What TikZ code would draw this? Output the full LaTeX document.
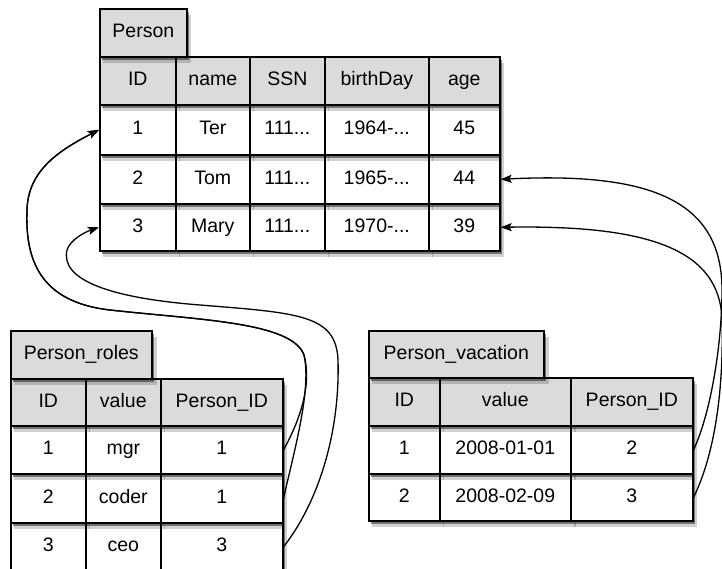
\documentclass[tikz,border=0pt]{standalone}
\usepackage{fontspec}
\setmainfont{Liberation Sans}
\usetikzlibrary{shadows,arrows.meta}
\begin{document}
\begin{tikzpicture}[x=1pt,y=-1pt,
  cell/.style={rectangle,draw=black,line width=1.6pt,fill=white,anchor=north west,
    inner sep=0pt,text height=14pt,text depth=4pt,
    font=\fontsize{19.5}{23}\selectfont,
    general shadow={shadow xshift=4pt,shadow yshift=-6pt,opacity=0.18,fill=black,shadow scale=1.01},
    drop shadow={shadow xshift=2.5pt,shadow yshift=-3.5pt,opacity=0.45,fill=black}},
  hcell/.style={cell,fill=black!14},
  conn/.style={line width=1.3pt,-{Stealth[length=11pt,width=8pt,inset=2pt]}}]
\useasboundingbox (0,0) rectangle (722,569);

% ---------- Person ----------
\node[cell,minimum width=76pt,minimum height=47pt] (p-3-1) at (99,203) {3};
\node[cell,minimum width=74pt,minimum height=47pt] (p-3-2) at (175,203) {Mary};
\node[cell,minimum width=75pt,minimum height=47pt] (p-3-3) at (249,203) {111...};
\node[cell,minimum width=104pt,minimum height=47pt] (p-3-4) at (324,203) {1970-...};
\node[cell,minimum width=71pt,minimum height=47pt] (p-3-5) at (428,203) {39};
\node[cell,minimum width=76pt,minimum height=49pt] (p-2-1) at (99,154) {2};
\node[cell,minimum width=74pt,minimum height=49pt] (p-2-2) at (175,154) {Tom};
\node[cell,minimum width=75pt,minimum height=49pt] (p-2-3) at (249,154) {111...};
\node[cell,minimum width=104pt,minimum height=49pt] (p-2-4) at (324,154) {1965-...};
\node[cell,minimum width=71pt,minimum height=49pt] (p-2-5) at (428,154) {44};
\node[cell,minimum width=76pt,minimum height=50pt] (p-1-1) at (99,104) {1};
\node[cell,minimum width=74pt,minimum height=50pt] (p-1-2) at (175,104) {Ter};
\node[cell,minimum width=75pt,minimum height=50pt] (p-1-3) at (249,104) {111...};
\node[cell,minimum width=104pt,minimum height=50pt] (p-1-4) at (324,104) {1964-...};
\node[cell,minimum width=71pt,minimum height=50pt] (p-1-5) at (428,104) {45};
\node[hcell,minimum width=76pt,minimum height=48pt] (p-h-1) at (99,56) {ID};
\node[hcell,minimum width=74pt,minimum height=48pt] (p-h-2) at (175,56) {name};
\node[hcell,minimum width=75pt,minimum height=48pt] (p-h-3) at (249,56) {SSN};
\node[hcell,minimum width=104pt,minimum height=48pt] (p-h-4) at (324,56) {birthDay};
\node[hcell,minimum width=71pt,minimum height=48pt] (p-h-5) at (428,56) {age};
\node[hcell,minimum width=87pt,minimum height=48pt] (p-tab) at (99,8) {Person};

% ---------- Person_roles ----------
\node[cell,minimum width=75pt,minimum height=48pt] (r-3-1) at (10,522) {3};
\node[cell,minimum width=75pt,minimum height=48pt] (r-3-2) at (85,522) {ceo};
\node[cell,minimum width=122pt,minimum height=48pt] (r-3-3) at (160,522) {3};
\node[cell,minimum width=75pt,minimum height=49pt] (r-2-1) at (10,473) {2};
\node[cell,minimum width=75pt,minimum height=49pt] (r-2-2) at (85,473) {coder};
\node[cell,minimum width=122pt,minimum height=49pt] (r-2-3) at (160,473) {1};
\node[cell,minimum width=75pt,minimum height=48pt] (r-1-1) at (10,425) {1};
\node[cell,minimum width=75pt,minimum height=48pt] (r-1-2) at (85,425) {mgr};
\node[cell,minimum width=122pt,minimum height=48pt] (r-1-3) at (160,425) {1};
\node[hcell,minimum width=75pt,minimum height=47pt] (r-h-1) at (10,378) {ID};
\node[hcell,minimum width=75pt,minimum height=47pt] (r-h-2) at (85,378) {value};
\node[hcell,minimum width=122pt,minimum height=47pt] (r-h-3) at (160,378) {Person\_ID};
\node[hcell,minimum width=141pt,minimum height=48pt] (r-tab) at (10,330) {Person\_roles};

% ---------- Person_vacation ----------
\node[cell,minimum width=71pt,minimum height=47pt] (v-2-1) at (368,473) {2};
\node[cell,minimum width=131pt,minimum height=47pt] (v-2-2) at (439,473) {2008-02-09};
\node[cell,minimum width=122pt,minimum height=47pt] (v-2-3) at (570,473) {3};
\node[cell,minimum width=71pt,minimum height=48pt] (v-1-1) at (368,425) {1};
\node[cell,minimum width=131pt,minimum height=48pt] (v-1-2) at (439,425) {2008-01-01};
\node[cell,minimum width=122pt,minimum height=48pt] (v-1-3) at (570,425) {2};
\node[hcell,minimum width=71pt,minimum height=48pt] (v-h-1) at (368,377) {ID};
\node[hcell,minimum width=131pt,minimum height=48pt] (v-h-2) at (439,377) {value};
\node[hcell,minimum width=122pt,minimum height=48pt] (v-h-3) at (570,377) {Person\_ID};
\node[hcell,minimum width=175pt,minimum height=47pt] (v-tab) at (368,330) {Person\_vacation};

% ---------- connectors ----------
\draw[conn] (r-1-3.east) .. controls (300,420) and (312,385) .. (304,355)
  .. controls (292,322) and (200,320) .. (110,310)
  .. controls (40,302) and (25,260) .. (27,210)
  .. controls (28,170) and (60,150) .. (p-1-1.west);
\draw[conn] (r-2-3.east) .. controls (293,455) and (312,390) .. (304,355)
  .. controls (292,322) and (200,320) .. (110,310)
  .. controls (40,302) and (25,260) .. (27,210)
  .. controls (28,170) and (60,150) .. (p-1-1.west);
\draw[conn] (r-3-3.east) .. controls (320,500) and (340,430) .. (338,360)
  .. controls (336,315) and (300,313) .. (200,305)
  .. controls (110,298) and (60,280) .. (67,250)
  .. controls (70,240) and (85,232) .. (p-3-1.west);
\draw[conn] (v-1-3.east) .. controls (712,410) and (722,340) .. (722,290)
  .. controls (722,200) and (650,172) .. (p-2-5.east);
\draw[conn] (v-2-3.east) .. controls (712,460) and (724,400) .. (722,320)
  .. controls (720,250) and (650,225) .. (p-3-5.east);
\end{tikzpicture}
\end{document}
